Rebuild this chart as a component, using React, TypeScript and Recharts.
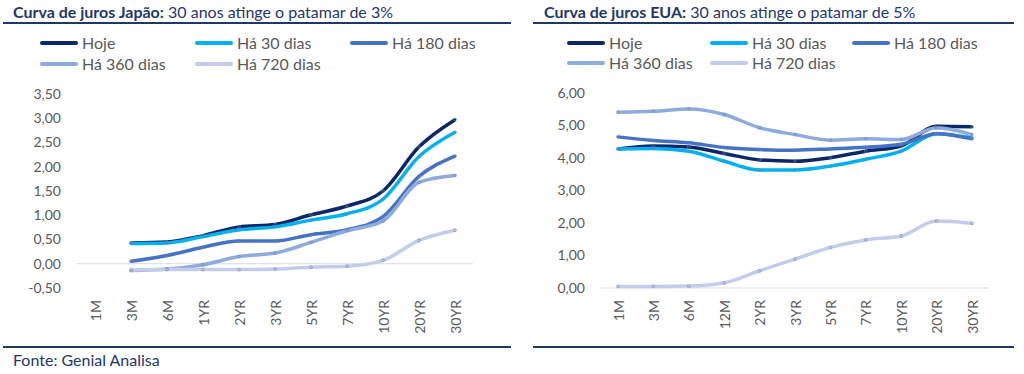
import React from 'react';
import { LineChart, Line, XAxis, YAxis, ReferenceLine } from 'recharts';

const jpCategories = ['1M', '3M', '6M', '1YR', '2YR', '3YR', '5YR', '7YR', '10YR', '20YR', '30YR'];
const jpHoje = [null, 0.43, 0.45, 0.58, 0.76, 0.81, 1.01, 1.19, 1.5, 2.41, 2.97];
const jp30 = [null, 0.42, 0.43, 0.56, 0.7, 0.76, 0.9, 1.03, 1.33, 2.21, 2.71];
const jp180 = [null, 0.05, 0.17, 0.34, 0.47, 0.47, 0.6, 0.7, 0.97, 1.8, 2.22];
const jp360 = [null, -0.14, -0.11, -0.02, 0.15, 0.22, 0.44, 0.68, 0.88, 1.68, 1.82];
const jp720 = [null, -0.13, -0.12, -0.12, -0.12, -0.11, -0.07, -0.05, 0.07, 0.48, 0.69];
const jpTicks = [-0.5, 0, 0.5, 1, 1.5, 2, 2.5, 3, 3.5];

const usCategories = ['1M', '3M', '6M', '12M', '2YR', '3YR', '5YR', '7YR', '10YR', '20YR', '30YR'];
const usHoje = [4.28, 4.37, 4.34, 4.14, 3.94, 3.9, 4.01, 4.21, 4.37, 4.98, 4.96];
const us30 = [4.28, 4.29, 4.21, 3.9, 3.63, 3.63, 3.75, 3.96, 4.21, 4.75, 4.62];
const us180 = [4.65, 4.54, 4.47, 4.32, 4.26, 4.24, 4.28, 4.33, 4.42, 4.75, 4.59];
const us360 = [5.41, 5.44, 5.51, 5.34, 4.93, 4.72, 4.55, 4.59, 4.57, 4.93, 4.72];
const us720 = [0.05, 0.05, 0.06, 0.16, 0.53, 0.89, 1.25, 1.48, 1.6, 2.06, 1.99];
const usTicks = [0, 1, 2, 3, 4, 5, 6];

const seriesNames = ['Hoje', 'Há 30 dias', 'Há 180 dias', 'Há 360 dias', 'Há 720 dias'];
const seriesKeys = ['hoje', 'd30', 'd180', 'd360', 'd720'];
const seriesColors = ['#0c2767', '#00b0f0', '#4472c4', '#8faadc', '#c3cdea'];

const FONT = 'Lato, "Open Sans", sans-serif';
const NAVY = '#1f3864';
const GRAY = '#595959';

function build(categories: string[], cols: (number | null)[][]) {
  return categories.map((c, i) => {
    const row: any = { cat: c };
    seriesKeys.forEach((k, j) => {
      row[k] = cols[j][i];
    });
    return row;
  });
}

const jpData = build(jpCategories, [jpHoje, jp30, jp180, jp360, jp720]);
const usData = build(usCategories, [usHoje, us30, us180, us360, us720]);

const fmt = (v: number) => v.toFixed(2).replace('.', ',');

const XTick = (props: any) => {
  const { x, y, payload } = props;
  return (
    <text
      x={x}
      y={y}
      transform={`rotate(-90, ${x}, ${y})`}
      textAnchor="end"
      dominantBaseline="central"
      fill={GRAY}
      fontSize={14}
      fontFamily={FONT}
    >
      {payload.value}
    </text>
  );
};

type ChartProps = {
  data: any[];
  domain: [number, number];
  ticks: number[];
  left: number;
  yAxisWidth: number;
  rightMargin: number;
  top: number;
  pad: number;
};

function YieldChart({ data, domain, ticks, left, yAxisWidth, rightMargin, top, pad }: ChartProps) {
  return (
    <div style={{ position: 'absolute', left, top: 0 }}>
      <LineChart
        width={512}
        height={374}
        data={data}
        margin={{ top, right: rightMargin, bottom: 0, left: 0 }}
      >
        <XAxis
          dataKey="cat"
          interval={0}
          height={86}
          tickLine={false}
          axisLine={false}
          tickSize={0}
          tickMargin={12}
          padding={{ left: pad, right: pad }}
          tick={<XTick />}
        />
        <YAxis
          width={yAxisWidth}
          domain={domain}
          ticks={ticks}
          tickFormatter={fmt}
          tickLine={false}
          axisLine={false}
          tickSize={0}
          tickMargin={16}
          tick={{ fill: GRAY, fontSize: 14, fontFamily: FONT }}
          interval={0}
        />
        <ReferenceLine y={0} stroke="#d9d9d9" strokeWidth={1} />
        {seriesKeys.map((k, j) => (
          <Line
            key={k}
            dataKey={k}
            name={seriesNames[j]}
            type="monotone"
            stroke={seriesColors[j]}
            strokeWidth={3.5}
            dot={{ r: 1.4, fill: seriesColors[j], stroke: '#6f86b8', strokeWidth: 0.6 }}
            isAnimationActive={false}
            connectNulls={false}
          />
        ))}
      </LineChart>
    </div>
  );
}

type LegendPos = { lineX: number; y: number };

function Legend({ positions }: { positions: LegendPos[] }) {
  return (
    <>
      {positions.map((p, j) => (
        <div key={j}>
          <div
            style={{
              position: 'absolute',
              left: p.lineX,
              top: p.y - 2,
              width: 38,
              height: 4,
              borderRadius: 2,
              background: seriesColors[j],
            }}
          />
          <div
            style={{
              position: 'absolute',
              left: p.lineX + 42,
              top: p.y - 11,
              fontFamily: FONT,
              fontSize: 16,
              lineHeight: '22px',
              color: GRAY,
              whiteSpace: 'nowrap',
            }}
          >
            {seriesNames[j]}
          </div>
        </div>
      ))}
    </>
  );
}

function Title({ x, bold, rest }: { x: number; bold: string; rest: string }) {
  return (
    <div
      style={{
        position: 'absolute',
        left: x,
        top: 2,
        fontFamily: FONT,
        fontSize: 16,
        lineHeight: '20px',
        color: NAVY,
        whiteSpace: 'nowrap',
      }}
    >
      <span style={{ fontWeight: 700 }}>{bold}</span> {rest}
    </div>
  );
}

const Rule = ({ x, y, w }: { x: number; y: number; w: number }) => (
  <div style={{ position: 'absolute', left: x, top: y, width: w, height: 2, background: NAVY }} />
);

export default function App() {
  return (
    <div
      style={{
        position: 'absolute',
        left: 0,
        top: 0,
        width: 1024,
        height: 374,
        background: '#ffffff',
        overflow: 'hidden',
      }}
    >
      <YieldChart data={jpData} domain={[-0.5, 3.5]} ticks={jpTicks} left={0} yAxisWidth={77} rightMargin={39} top={94} pad={18} />
      <YieldChart data={usData} domain={[0, 6]} ticks={usTicks} left={512} yAxisWidth={89} rightMargin={35} top={93} pad={17} />

      <Title x={13} bold="Curva de juros Japão:" rest="30 anos atinge o patamar de 3%" />
      <Title x={544} bold="Curva de juros EUA:" rest="30 anos atinge o patamar de 5%" />
      <Rule x={3} y={22} w={508} />
      <Rule x={533} y={22} w={481} />

      <Legend
        positions={[
          { lineX: 40, y: 43 },
          { lineX: 195, y: 43 },
          { lineX: 350, y: 43 },
          { lineX: 40, y: 64 },
          { lineX: 195, y: 64 },
        ]}
      />
      <Legend
        positions={[
          { lineX: 567, y: 43 },
          { lineX: 710, y: 43 },
          { lineX: 852, y: 43 },
          { lineX: 567, y: 63 },
          { lineX: 710, y: 63 },
        ]}
      />

      <Rule x={3} y={346} w={508} />
      <Rule x={533} y={346} w={481} />
      <div
        style={{
          position: 'absolute',
          left: 13,
          top: 350,
          fontFamily: FONT,
          fontSize: 16,
          lineHeight: '20px',
          color: NAVY,
          whiteSpace: 'nowrap',
        }}
      >
        Fonte: Genial Analisa
      </div>
    </div>
  );
}
